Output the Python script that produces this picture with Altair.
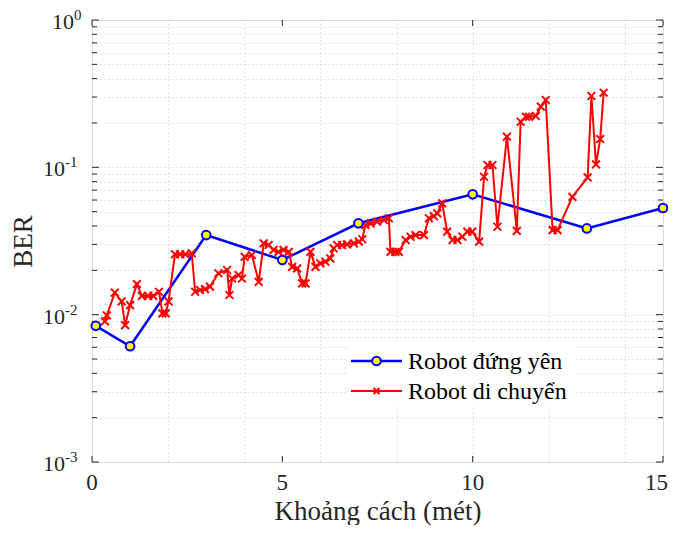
import altair as alt
import pandas as pd

# ---- data ----
blue_x = [0.1, 1, 3, 5, 7, 10, 13, 15]
blue_y = [0.0084, 0.0061, 0.0347, 0.0235, 0.0417, 0.0656, 0.0385, 0.053]

red_x = [0.34, 0.39, 0.60, 0.78, 0.87, 1.00, 1.18, 1.31, 1.48, 1.61, 1.76, 1.85, 1.94, 2.01,
         2.18, 2.32, 2.45, 2.62, 2.71, 2.84, 2.97, 3.10, 3.32, 3.55, 3.61, 3.68, 3.85, 3.94,
         4.01, 4.20, 4.38, 4.51, 4.64, 4.77, 4.90, 5.03, 5.17, 5.26, 5.39, 5.52, 5.61, 5.74,
         5.87, 6.00, 6.13, 6.26, 6.35, 6.44, 6.57, 6.70, 6.88, 7.01, 7.10, 7.18, 7.32, 7.49,
         7.67, 7.80, 7.84, 7.97, 8.06, 8.24, 8.37, 8.50, 8.72, 8.85, 8.98, 9.07, 9.20, 9.33,
         9.47, 9.60, 9.73, 9.86, 9.99, 10.17, 10.30, 10.39, 10.52, 10.65, 10.90, 11.16, 11.26,
         11.40, 11.48, 11.66, 11.79, 11.92, 12.10, 12.23, 12.62, 13.02, 13.12, 13.24, 13.35, 13.44]
red_y = [0.0090, 0.0099, 0.0141, 0.0123, 0.0085, 0.0116, 0.0161, 0.0134, 0.0134, 0.0134,
         0.0143, 0.0102, 0.0102, 0.0123, 0.0257, 0.0257, 0.0257, 0.0261, 0.0143, 0.0147,
         0.0149, 0.0155, 0.0191, 0.0201, 0.0136, 0.0176, 0.0186, 0.0176, 0.0247, 0.0254,
         0.0167, 0.0305, 0.0297, 0.0275, 0.0267, 0.0275, 0.0267, 0.0211, 0.0206, 0.0163,
         0.0163, 0.0267, 0.0211, 0.0223, 0.0229, 0.0241, 0.0282, 0.0297, 0.0297, 0.0300,
         0.0305, 0.0313, 0.0325, 0.0406, 0.0417, 0.0428, 0.0439, 0.0451, 0.0267, 0.0267,
         0.0267, 0.0321, 0.0338, 0.0347, 0.0347, 0.0451, 0.0467, 0.0487, 0.0570, 0.0366,
         0.0321, 0.0321, 0.0338, 0.0366, 0.0366, 0.0313, 0.0863, 0.1037, 0.1037, 0.0395,
         0.1614, 0.0370, 0.2040, 0.2205, 0.2205, 0.2230, 0.2580, 0.2865, 0.0375, 0.0375,
         0.0631, 0.0855, 0.3050, 0.1048, 0.1556, 0.3210]

series_names = ["Robot đứng yên", "Robot di chuyển"]
x_ticks = [0, 5, 10, 15]
y_decades = [0.001, 0.01, 0.1, 1]
y_exponents = ["-3", "-2", "-1", "0"]

W, H = 571, 442
FONT = "Liberation Serif, Times New Roman, serif"
TXT = "#262626"

blue_df = pd.DataFrame({"x": blue_x, "y": blue_y})
red_df = pd.DataFrame({"x": red_x, "y": red_y})

y_minor = sorted({round(k * d, 6) for d in y_decades[:-1] for k in range(1, 10)} | {1.0})
x_grid = list(range(0, 16))

xscale = alt.Scale(domain=[0, 15], nice=False, zero=False)
yscale = alt.Scale(type="log", domain=[0.001, 1], nice=False)

xaxis = alt.Axis(values=x_grid, labels=False,
                 title="Khoảng cách (mét)", grid=True, ticks=False, domain=False,
                 titleFont=FONT, titleFontSize=27, titleFontWeight="normal",
                 titleColor=TXT, titlePadding=36,
                 gridColor="#c8c8c8", gridDash=[1, 3], gridWidth=1)
yaxis = alt.Axis(values=y_minor, labels=False, title="BER", grid=True,
                 ticks=False, domain=False,
                 titleFont=FONT, titleFontSize=27, titleFontWeight="normal",
                 titleColor=TXT, titlePadding=55,
                 gridColor="#c8c8c8", gridDash=[1, 3], gridWidth=1)

blue_line = alt.Chart(blue_df).mark_line(color="#0000ff", strokeWidth=2.5).encode(
    x=alt.X("x:Q", scale=xscale, axis=xaxis),
    y=alt.Y("y:Q", scale=yscale, axis=yaxis),
)
blue_pts = alt.Chart(blue_df).mark_point(shape="circle", filled=True, fill="#ffff00",
                                         stroke="#0000ff", strokeWidth=2, size=75,
                                         opacity=1).encode(
    x=alt.X("x:Q", scale=xscale), y=alt.Y("y:Q", scale=yscale))

XPATH = "M-1,-1L1,1M-1,1L1,-1"
red_line = alt.Chart(red_df).mark_line(color="#ff0000", strokeWidth=2).encode(
    x=alt.X("x:Q", scale=xscale), y=alt.Y("y:Q", scale=yscale))
red_pts = alt.Chart(red_df).mark_point(shape=XPATH, filled=False, stroke="#ff0000",
                                       strokeWidth=2, size=60, opacity=1).encode(
    x=alt.X("x:Q", scale=xscale), y=alt.Y("y:Q", scale=yscale))

# x tick labels (last one kept inside the page edge)
xlab_df = pd.DataFrame({"v": x_ticks, "t": [str(v) for v in x_ticks]})
xlabels = [
    alt.Chart(xlab_df.iloc[:-1]).mark_text(align="center", baseline="middle", font=FONT,
                                           fontSize=23, color=TXT).encode(
        x=alt.X("v:Q", scale=xscale), y=alt.value(H + 21), text="t:N"),
    alt.Chart(xlab_df.iloc[-1:]).mark_text(align="right", baseline="middle", font=FONT,
                                           fontSize=23, color=TXT, dx=5).encode(
        x=alt.X("v:Q", scale=xscale), y=alt.value(H + 21), text="t:N"),
]

# y tick labels: 10 with superscript exponent
ylab_df = pd.DataFrame({"v": y_decades, "e": y_exponents})
neg_df = ylab_df[ylab_df["e"] != "0"]
zero_df = ylab_df[ylab_df["e"] == "0"]
ylabels = [
    alt.Chart(neg_df).mark_text(text="10", align="right", baseline="middle", font=FONT,
                                fontSize=22, color=TXT, dy=2).encode(
        y=alt.Y("v:Q", scale=yscale), x=alt.value(-27)),
    alt.Chart(neg_df).mark_text(align="left", baseline="middle", font=FONT,
                                fontSize=15, color=TXT, dy=-5).encode(
        y=alt.Y("v:Q", scale=yscale), x=alt.value(-27), text="e:N"),
    alt.Chart(zero_df).mark_text(text="10", align="right", baseline="middle", font=FONT,
                                 fontSize=22, color=TXT, dy=2).encode(
        y=alt.Y("v:Q", scale=yscale), x=alt.value(-18)),
    alt.Chart(zero_df).mark_text(align="left", baseline="middle", font=FONT,
                                 fontSize=15, color=TXT, dy=-5).encode(
        y=alt.Y("v:Q", scale=yscale), x=alt.value(-18), text="e:N"),
]

# inward ticks (MATLAB box style)
ymin_df = pd.DataFrame({"v": [v for v in y_minor if v not in y_decades]})
ymaj_df = pd.DataFrame({"v": y_decades})
xt_df = pd.DataFrame({"v": x_ticks})
ticks = [
    alt.Chart(ymin_df).mark_rule(color=TXT, strokeWidth=1).encode(
        y=alt.Y("v:Q", scale=yscale), x=alt.value(0), x2=alt.value(5)),
    alt.Chart(ymin_df).mark_rule(color=TXT, strokeWidth=1).encode(
        y=alt.Y("v:Q", scale=yscale), x=alt.value(W), x2=alt.value(W - 5)),
    alt.Chart(ymaj_df).mark_rule(color=TXT, strokeWidth=1).encode(
        y=alt.Y("v:Q", scale=yscale), x=alt.value(0), x2=alt.value(7)),
    alt.Chart(ymaj_df).mark_rule(color=TXT, strokeWidth=1).encode(
        y=alt.Y("v:Q", scale=yscale), x=alt.value(W), x2=alt.value(W - 7)),
    alt.Chart(xt_df).mark_rule(color=TXT, strokeWidth=1).encode(
        x=alt.X("v:Q", scale=xscale), y=alt.value(H), y2=alt.value(H - 6)),
    alt.Chart(xt_df).mark_rule(color=TXT, strokeWidth=1).encode(
        x=alt.X("v:Q", scale=xscale), y=alt.value(0), y2=alt.value(6)),
]

# legend box
leg_df = pd.DataFrame({"name": series_names})
LX0, LX1, LY0, LY1 = 255, 483, 323, 385
ly = [341, 371]
legend_layers = [alt.Chart(leg_df.head(1)).mark_rect(fill="white").encode(
    x=alt.value(LX0), x2=alt.value(LX1), y=alt.value(LY0), y2=alt.value(LY1))]
colors = ["#0000ff", "#ff0000"]
for i, name in enumerate(series_names):
    one = leg_df.iloc[[i]]
    legend_layers.append(alt.Chart(one).mark_rule(color=colors[i],
                                                  strokeWidth=2.5 if i == 0 else 2).encode(
        x=alt.value(259), x2=alt.value(310), y=alt.value(ly[i])))
    if i == 0:
        legend_layers.append(alt.Chart(one).mark_point(shape="circle", filled=True,
                                                       fill="#ffff00", stroke="#0000ff",
                                                       strokeWidth=2, size=75, opacity=1).encode(
            x=alt.value(284.5), y=alt.value(ly[i])))
    else:
        legend_layers.append(alt.Chart(one).mark_point(shape=XPATH, filled=False,
                                                       stroke="#ff0000", strokeWidth=2,
                                                       size=35, opacity=1).encode(
            x=alt.value(284.5), y=alt.value(ly[i])))
    legend_layers.append(alt.Chart(one).mark_text(align="left", baseline="middle",
                                                  font=FONT, fontSize=24, color="#000000").encode(
        x=alt.value(316), y=alt.value(ly[i] + 1), text="name:N"))

chart = alt.layer(blue_line, *ticks, *xlabels, *ylabels, red_line, red_pts, blue_pts,
                  *legend_layers).properties(
    width=W, height=H,
    autosize=alt.AutoSizeParams(type="none"),
    padding={"left": 84, "top": 12, "right": 5, "bottom": 63},
).configure_view(stroke=TXT, strokeWidth=1).configure(
    background="white", font=FONT).configure_text(font=FONT)

chart.save("out.html", embed_options={"renderer": "svg", "actions": False})
